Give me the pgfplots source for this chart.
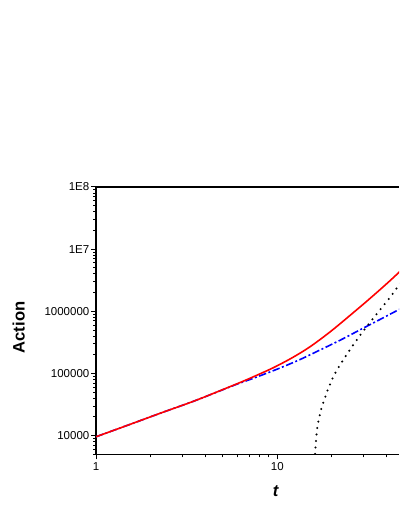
\documentclass[border=0pt]{standalone}
\usepackage{fontspec}
\setmainfont{Liberation Sans}
\usepackage{pgfplots}
\pgfplotsset{compat=1.18}

\begin{document}
\begin{tikzpicture}
\path (0pt,0pt) rectangle (399pt,516pt);
\begin{loglogaxis}[
    at={(96pt,61.6pt)}, anchor=south west,
    scale only axis,
    width=303pt, height=267.4pt,
    xmin=1, xmax=46.92,
    ymin=5000, ymax=1e8,
    axis x line*=bottom, axis y line*=left,
    axis line style={line width=1.1pt},
    clip bounding box=upper bound,
    tick pos=left, tick align=outside,
    major tick length=5pt, minor tick length=3pt,
    every tick/.style={black, line width=1pt},
    xtick={1,10}, xticklabels={1,10},
    ytick={1e4,1e5,1e6,1e7,1e8},
    yticklabels={10000,100000,1000000,1E7,1E8},
    minor xtick={2,3,4,5,6,7,8,9,20,30,40},
    minor ytick={5000,6000,7000,8000,9000,
        20000,30000,40000,50000,60000,70000,80000,90000,
        200000,300000,400000,500000,600000,700000,800000,900000,
        2e6,3e6,4e6,5e6,6e6,7e6,8e6,9e6,
        2e7,3e7,4e7,5e7,6e7,7e7,8e7,9e7},
    ticklabel style={font=\fontsize{11.5}{13}\selectfont},
    yticklabel style={inner sep=1.5pt},
    every axis x label/.style={at={(axis description cs:0.5941,-0.1358)}, anchor=center,
        font=\fontsize{16.6}{18}\selectfont},
    every axis y label/.style={at={(axis description cs:-0.2548,0.4746)}, rotate=90, anchor=center,
        font=\fontsize{16.6}{18}\selectfont},
    xlabel={\textbf{\textit{t}}},
    ylabel={\textbf{Action}},
]

% top frame line (the right side is cut off in the original)
\draw[line width=1.1pt] (rel axis cs:0,1) -- (rel axis cs:1,1);

% blue dash-dot
\addplot[blue, line width=1.6pt, smooth, dash pattern=on 7.5pt off 2.5pt on 2pt off 2.5pt] coordinates {
    (1, 9600) (1.508, 14860) (2.304, 23430) (3.516, 36530) (5.77, 64600)
    (7.07, 80100) (8.03, 91900) (10.35, 122600) (13.35, 167900) (17.2, 238800)
    (22.2, 343000) (28.6, 504000) (36.9, 741000) (46.9, 1069000) (53.9, 1320000)
};

% red solid
\addplot[red, line width=1.6pt, smooth] coordinates {
    (1, 9600) (1.508, 14860) (2.304, 23430) (3.516, 36530) (5.77, 65300)
    (7.07, 83800) (9.11, 116800) (10.35, 140600) (11.75, 171200) (13.35, 212700)
    (15.15, 269000) (17.2, 351300) (19.54, 466600) (22.2, 631800) (28.6, 1175000)
    (32.45, 1612000) (36.9, 2237000) (41.84, 3108000) (46.9, 4242000) (53.9, 6260000)
};

% black dotted
\addplot[black, line width=2.3pt, line cap=round, dash pattern=on 0pt off 6.5pt, smooth] coordinates {
    (16.10, 4000) (16.20, 5800) (16.35, 8000) (16.50, 11000) (16.71, 14900)
    (17.05, 20000) (17.42, 25900) (17.93, 34000) (18.49, 43500) (18.97, 54000)
    (19.60, 68500) (20.21, 84000) (20.89, 102000) (21.81, 127000) (22.66, 152000)
    (23.71, 186000) (24.76, 224000) (25.73, 264000) (26.26, 290000) (29.8, 481000)
    (33.85, 776000) (38.43, 1230000) (42.76, 1820000) (46.5, 2570000) (53.9, 4820000)
};

\end{loglogaxis}
\end{tikzpicture}
\end{document}
